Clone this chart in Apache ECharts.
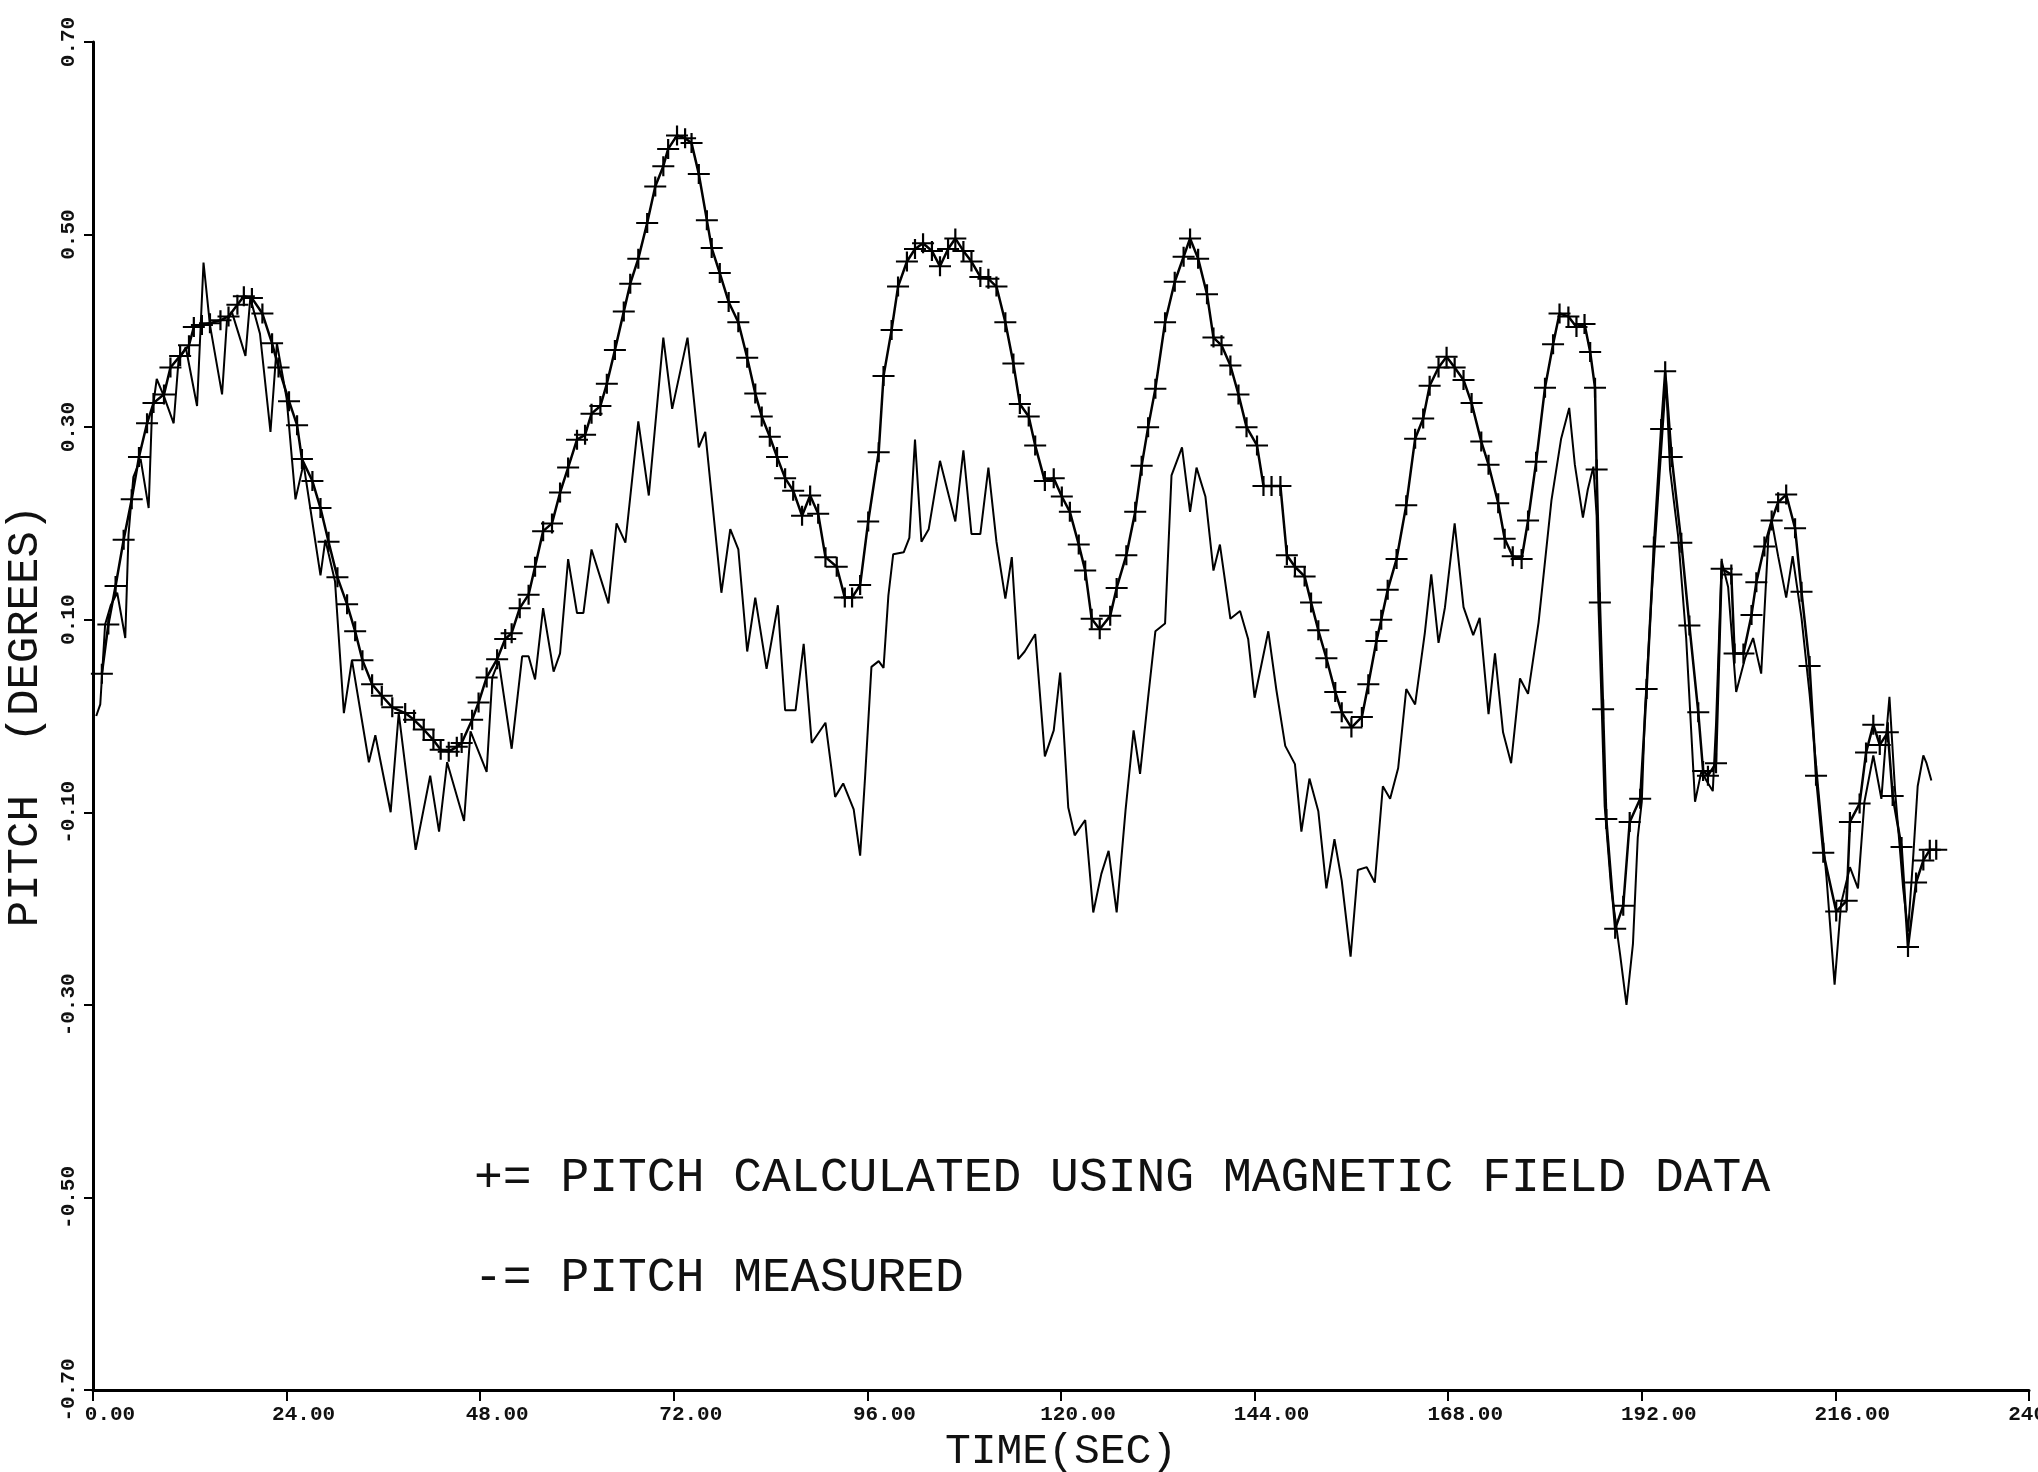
<!DOCTYPE html>
<html>
<head>
<meta charset="utf-8">
<script src="https://cdn.jsdelivr.net/npm/echarts@6/dist/echarts.min.js"></script>
<style>
html,body{margin:0;padding:0;background:#fff;}
#chart{width:2038px;height:1472px;}
</style>
</head>
<body>
<div id="chart"></div>
<script>
// Time (s) and pitch (deg)
const calcTime = [1.1,1.9,2.8,3.8,4.8,5.7,6.7,7.5,8.8,9.6,10.8,11.9,12.5,13.5,14.5,15.8,16.8,17.9,18.7,19.7,21.0,22.2,23.0,24.3,25.3,25.9,27.2,28.2,29.2,30.3,31.5,32.5,33.4,34.6,35.8,37.1,38.7,39.8,41.0,42.2,43.1,44.1,45.1,45.7,47.0,47.8,48.8,
50.1,51.1,51.9,52.9,54.0,54.8,55.8,56.9,57.9,58.9,60.0,61.0,61.8,62.9,63.7,64.7,65.8,66.6,67.6,68.7,69.7,70.7,71.3,72.4,73.4,74.2,75.1,76.1,76.7,77.7,78.8,80.0,81.1,82.1,82.9,83.9,84.8,85.8,86.8,87.9,88.9,89.9,90.8,92.2,93.2,94.1,95.1,96.1,97.4,
98.0,99.0,99.8,100.9,101.9,102.9,104.0,105.0,106.0,106.9,107.9,108.9,110.0,111.0,112.0,113.1,114.1,114.9,116.0,116.8,118.0,119.1,120.1,121.1,122.2,123.0,123.8,124.8,126.1,126.9,128.1,129.2,130.0,130.8,131.7,132.9,134.1,135.2,136.0,137.0,138.1,138.9,139.9,141.0,142.0,143.0,144.3,145.1,146.1,147.2,
148.0,149.0,150.2,151.0,151.9,152.9,154.0,154.8,156.0,157.3,158.1,159.1,159.7,160.5,161.6,162.8,163.9,164.9,165.7,166.8,167.8,168.8,169.9,170.9,172.1,173.0,174.2,175.0,176.0,177.1,177.9,178.9,180.0,181.0,181.8,182.9,183.9,184.9,185.6,186.2,186.4,186.8,187.2,187.6,
188.7,189.7,190.5,191.8,192.6,193.5,194.4,194.9,195.7,196.9,197.9,199.0,199.6,200.2,201.2,201.9,203.1,203.5,204.6,205.6,206.2,207.2,208.1,208.9,209.9,211.0,211.8,212.8,213.6,214.5,216.1,217.4,217.8,219.0,219.8,220.7,221.5,222.5,223.1,224.2,225.0,226.0,226.9,227.7,228.5];
const calcPitch = [0.044,0.095,0.135,0.183,0.225,0.269,0.304,0.325,0.334,0.362,0.374,0.385,0.404,0.406,0.408,0.411,0.415,0.427,0.436,0.434,0.418,0.387,0.362,0.327,0.302,0.267,0.244,0.216,0.181,0.144,0.116,0.088,0.058,0.033,0.021,0.009,0.003,-0.004,-0.014,-0.025,-0.035,-0.037,-0.032,-0.028,-0.004,0.014,0.040,
0.059,0.080,0.086,0.112,0.126,0.155,0.192,0.200,0.232,0.258,0.287,0.292,0.314,0.322,0.345,0.380,0.420,0.449,0.475,0.512,0.550,0.571,0.589,0.603,0.600,0.595,0.563,0.515,0.486,0.460,0.430,0.409,0.372,0.335,0.311,0.290,0.269,0.247,0.234,0.208,0.229,0.210,0.165,0.155,0.123,0.123,0.136,0.202,0.274,
0.353,0.401,0.446,0.472,0.485,0.491,0.483,0.467,0.485,0.496,0.483,0.472,0.456,0.454,0.446,0.409,0.366,0.324,0.311,0.281,0.244,0.247,0.228,0.212,0.178,0.151,0.101,0.090,0.104,0.133,0.167,0.212,0.260,0.300,0.340,0.409,0.451,0.477,0.496,0.475,0.438,0.393,0.385,0.364,0.334,0.300,0.281,0.239,0.239,0.239,
0.167,0.155,0.145,0.118,0.089,0.060,0.025,0.004,-0.012,-0.001,0.033,0.078,0.100,0.131,0.163,0.219,0.288,0.309,0.343,0.362,0.373,0.362,0.349,0.325,0.285,0.261,0.221,0.184,0.166,0.163,0.203,0.264,0.341,0.386,0.418,0.415,0.404,0.407,0.378,0.341,0.256,0.118,0.007,-0.107,
-0.221,-0.197,-0.110,-0.086,0.028,0.176,0.298,0.358,0.269,0.180,0.094,0.004,-0.057,-0.062,-0.049,0.153,0.147,0.065,0.065,0.105,0.139,0.176,0.203,0.222,0.230,0.195,0.129,0.052,-0.062,-0.142,-0.203,-0.192,-0.110,-0.091,-0.038,-0.009,-0.030,-0.017,-0.083,-0.136,-0.240,-0.173,-0.150,-0.139,-0.139];

const measTime = [0.4,0.9,1.5,2.2,3.0,4.0,4.4,5.0,5.9,6.9,7.3,7.9,8.8,10.0,10.6,11.5,12.9,13.7,14.5,16.0,16.6,17.2,18.9,19.5,20.7,22.0,22.8,24.0,25.1,26.1,28.2,28.8,30.0,31.1,32.1,34.2,35.0,36.9,37.9,40.0,41.8,42.9,43.9,46.0,46.8,48.8,49.5,
50.3,51.9,53.2,54.0,54.8,55.8,57.1,57.9,58.9,60.0,60.8,61.8,63.9,64.9,66.0,67.6,68.9,70.7,71.8,73.7,75.1,75.9,77.9,79.0,80.0,81.1,82.1,83.5,84.9,85.8,87.1,88.1,89.1,90.8,92.0,93.0,94.3,95.1,95.7,96.5,97.4,98.0,98.6,99.2,100.5,101.2,
101.9,102.7,103.6,105.0,106.9,107.9,108.9,110.0,111.0,112.0,113.1,113.9,114.7,115.5,116.8,118.0,119.1,119.9,120.9,121.7,123.0,124.0,125.0,125.9,126.9,128.0,129.0,129.8,130.8,131.7,132.9,133.7,135.0,136.0,136.8,137.9,138.9,139.7,141.0,142.2,143.2,144.0,145.7,146.7,147.8,
149.0,149.8,150.8,151.9,152.9,153.9,154.8,155.9,156.8,157.9,158.9,159.9,160.8,161.8,162.8,163.9,165.1,165.9,166.8,167.6,168.8,169.9,171.1,171.9,173.0,173.8,174.8,175.8,176.9,177.9,179.2,180.8,182.0,183.0,183.7,184.7,185.3,186.0,186.4,186.6,187.0,187.4,188.2,189.3,190.1,190.9,191.5,192.0,
192.4,193.2,194.2,195.0,195.5,196.5,197.5,198.6,199.4,200.0,200.8,201.2,201.9,202.7,203.7,204.8,205.8,206.8,207.7,208.1,208.9,209.9,210.7,211.8,212.8,213.9,214.9,215.9,216.7,217.8,218.8,219.6,220.7,221.7,222.3,222.7,223.4,224.4,225.0,225.6,226.2,226.9,227.3,227.9];
const measPitch = [0.000,0.012,0.095,0.115,0.128,0.081,0.188,0.248,0.267,0.216,0.313,0.350,0.332,0.304,0.369,0.383,0.322,0.471,0.406,0.334,0.410,0.420,0.374,0.434,0.397,0.295,0.387,0.330,0.225,0.262,0.146,0.183,0.140,0.003,0.058,-0.048,-0.020,-0.100,0.003,-0.139,-0.062,-0.120,-0.048,-0.109,-0.016,-0.058,0.040,
0.057,-0.034,0.062,0.062,0.038,0.112,0.046,0.065,0.163,0.107,0.107,0.173,0.117,0.200,0.180,0.306,0.229,0.393,0.319,0.393,0.279,0.295,0.128,0.194,0.173,0.067,0.123,0.049,0.115,0.006,0.006,0.075,-0.028,-0.007,-0.084,-0.070,-0.097,-0.145,-0.065,0.051,0.057,0.050,0.125,0.168,0.170,0.185,
0.287,0.181,0.194,0.265,0.202,0.276,0.189,0.189,0.258,0.181,0.122,0.165,0.059,0.067,0.085,-0.042,-0.015,0.045,-0.095,-0.124,-0.108,-0.204,-0.164,-0.140,-0.204,-0.098,-0.015,-0.060,0.019,0.088,0.096,0.250,0.279,0.212,0.258,0.228,0.151,0.178,0.101,0.109,0.080,0.019,0.088,0.027,-0.031,
-0.050,-0.120,-0.065,-0.099,-0.179,-0.128,-0.171,-0.250,-0.160,-0.157,-0.173,-0.073,-0.086,-0.054,0.028,0.012,0.086,0.147,0.076,0.113,0.200,0.113,0.084,0.102,0.002,0.065,-0.017,-0.049,0.039,0.023,0.097,0.224,0.288,0.320,0.261,0.206,0.235,0.259,0.208,0.123,0.017,-0.094,-0.179,-0.247,-0.300,-0.237,-0.126,-0.089,
0.007,0.123,0.251,0.349,0.256,0.187,0.081,-0.089,-0.057,-0.067,-0.078,-0.009,0.161,0.134,0.025,0.060,0.081,0.044,0.187,0.203,0.166,0.123,0.166,0.102,0.023,-0.078,-0.168,-0.279,-0.195,-0.157,-0.179,-0.089,-0.041,-0.086,-0.020,0.020,-0.078,-0.179,-0.224,-0.152,-0.073,-0.041,-0.049,-0.067];

const xTickStep = 24;
const yTickStep = 0.2;
const legendLines = ['+= PITCH CALCULATED USING MAGNETIC FIELD DATA', '-= PITCH MEASURED'];

const FONT = '"Liberation Mono", "DejaVu Sans Mono", monospace';
const calcData = calcTime.map((t, i) => [t, calcPitch[i]]);
const measData = measTime.map((t, i) => [t, measPitch[i]]);

const chart = echarts.init(document.getElementById('chart'), null, {renderer: 'canvas'});
chart.setOption({
  animation: false,
  backgroundColor: '#ffffff',
  grid: {left: 93, right: 9, top: 42, bottom: 82, containLabel: false, outerBoundsMode: 'none'},
  xAxis: {
    type: 'value', min: 0, max: 240, interval: xTickStep,
    name: 'TIME(SEC)', nameLocation: 'middle', nameGap: 36,
    nameTextStyle: {fontFamily: FONT, fontSize: 43, color: '#111'},
    axisLine: {onZero: false, lineStyle: {color: '#000', width: 3}},
    axisTick: {inside: false, length: 11, lineStyle: {color: '#000', width: 2}},
    axisLabel: {fontFamily: FONT, fontSize: 21, fontWeight: 'bold', color: '#111', margin: 14,
      padding: [0, 0, 0, 34], formatter: v => v.toFixed(2), hideOverlap: false},
    splitLine: {show: false}
  },
  yAxis: {
    type: 'value', min: -0.7, max: 0.7, interval: yTickStep,
    name: 'PITCH  (DEGREES)', nameLocation: 'middle', nameGap: 46,
    nameTextStyle: {fontFamily: FONT, fontSize: 44, color: '#111'},
    axisLine: {onZero: false, lineStyle: {color: '#000', width: 3}},
    axisTick: {inside: false, length: 9, lineStyle: {color: '#000', width: 2}},
    axisLabel: {fontFamily: FONT, fontSize: 21, fontWeight: 'bold', color: '#111', rotate: 90, margin: 14,
      formatter: v => v.toFixed(2), hideOverlap: false},
    splitLine: {show: false}
  },
  series: [
    {
      name: 'PITCH CALCULATED USING MAGNETIC FIELD DATA', type: 'line', data: calcData,
      symbol: 'path://M0,9H20V11H0Z M9,0H11V20H9Z', symbolSize: [22, 20],
      itemStyle: {color: '#000'},
      lineStyle: {color: '#000', width: 2.5}, z: 3
    },
    {
      name: 'PITCH MEASURED', type: 'line', data: measData, showSymbol: false, symbol: 'none',
      lineStyle: {color: '#000', width: 2}, z: 2
    }
  ],
  graphic: legendLines.map((txt, i) => ({
    type: 'text', left: 474, top: 1154 + i * 100,
    style: {text: txt, font: '48px ' + FONT, fill: '#111'}
  }))
});
</script>
</body>
</html>
